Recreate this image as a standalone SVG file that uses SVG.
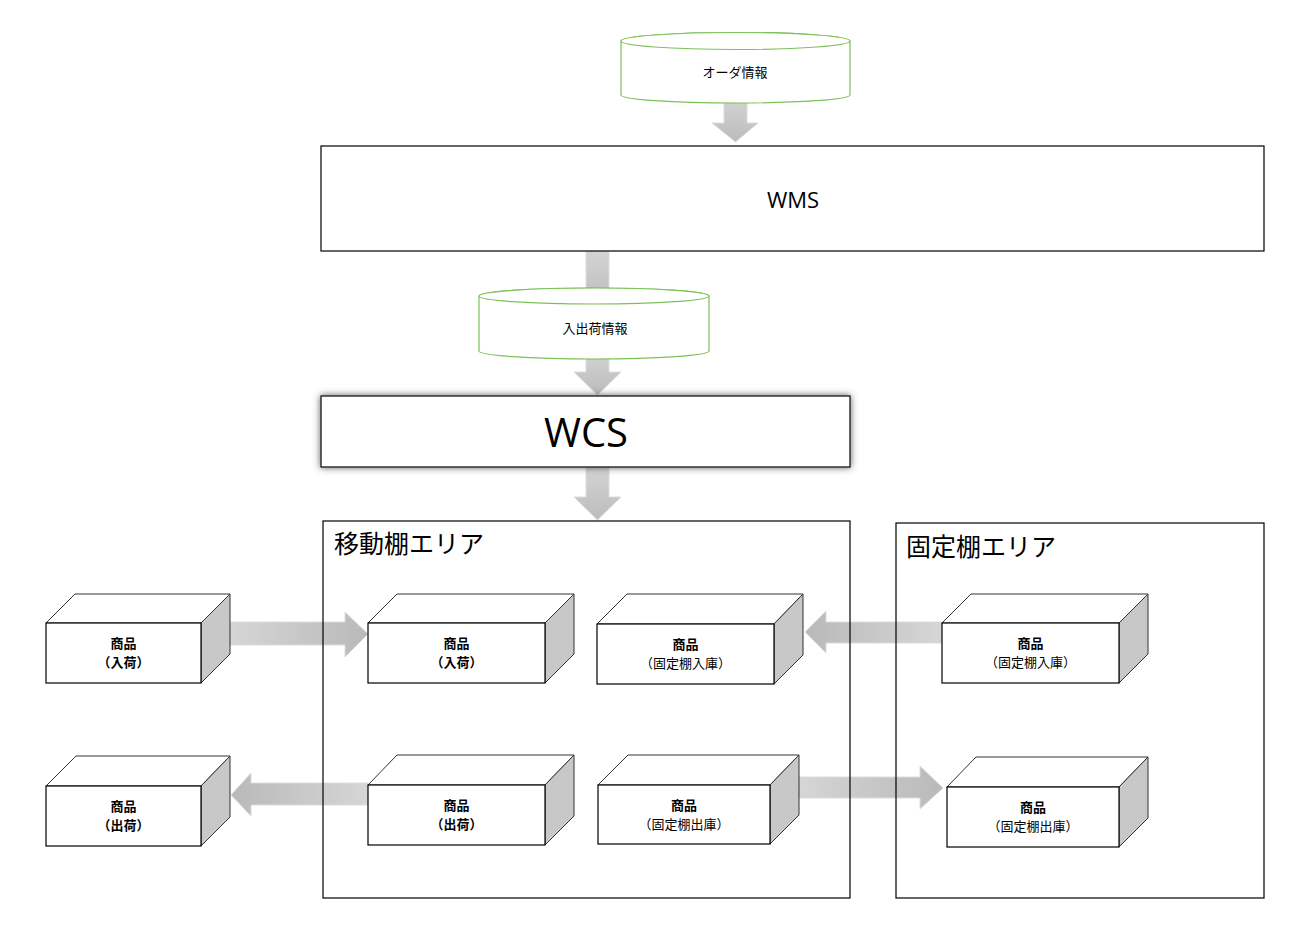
<svg xmlns="http://www.w3.org/2000/svg" width="1289" height="937" viewBox="0 0 1289 937">
<style>
.bx{fill:#fff;stroke:#000;stroke-width:1.2}
.top{fill:#fff;stroke:#333;stroke-width:1}
.side{fill:#c8c8c8;stroke:#333;stroke-width:1}
.area{fill:none;stroke:#000;stroke-width:1.2}
.cyl{fill:#fff;stroke:#7cc05a;stroke-width:1.2}
.jp{font-family:"Noto Sans CJK JP","Noto Sans",sans-serif;fill:#000}
.lbl{font-size:13px;text-anchor:middle}
.b{font-weight:bold}
.lat{font-family:"Open Sans","Noto Sans",sans-serif;fill:#000;text-anchor:middle}
.arr{stroke:#dcdcdc;stroke-width:1}
</style>
<defs>
<linearGradient id="gR" x1="0" y1="0" x2="1" y2="0"><stop offset="0" stop-color="#d6d6d6"/><stop offset="1" stop-color="#b9b9b9"/></linearGradient>
<linearGradient id="gL" x1="1" y1="0" x2="0" y2="0"><stop offset="0" stop-color="#d6d6d6"/><stop offset="1" stop-color="#b9b9b9"/></linearGradient>
<linearGradient id="gD" x1="0" y1="0" x2="0" y2="1"><stop offset="0" stop-color="#d4d4d4"/><stop offset="1" stop-color="#bcbcbc"/></linearGradient>
<filter id="sh" x="-10%" y="-30%" width="120%" height="160%"><feDropShadow dx="0" dy="0" stdDeviation="3.5" flood-color="#444" flood-opacity="0.9"/></filter>
</defs>
<g id="connectors">
<polygon class="arr" fill="url(#gD)" points="724,96 747,96 747,123 758,123 735.5,142 712,123 724,123"/>
<polygon class="arr" fill="url(#gD)" points="586,251 609,251 609,305 586,305"/>
<polygon class="arr" fill="url(#gD)" points="586,350 609,350 609,372 621,372 597.5,395 574,372 586,372"/>
<polygon class="arr" fill="url(#gD)" points="586,467 609,467 609,497 621,497 597.5,520 574,497 586,497"/>
<polygon class="arr" fill="url(#gR)" points="230,622 345,622 345,612 368,634 345,657 345,645 230,645"/>
<polygon class="arr" fill="url(#gL)" points="942,622 826,622 826,611 805,632 826,653 826,643 942,643"/>
<polygon class="arr" fill="url(#gL)" points="368,783 251,783 251,773 231,795 251,816 251,805 368,805"/>
<polygon class="arr" fill="url(#gR)" points="799,777 920,777 920,766 943,788 920,809 920,798 799,798"/>
</g>
<g id="order-info">
<path class="cyl" d="M621,41 A114.5,8.5 0 0 1 850,41 L850,95 A114.5,8 0 0 1 621,95 Z"/>
<ellipse class="cyl" cx="735.5" cy="41" rx="114.5" ry="8.5"/>
<text class="jp lbl" x="735" y="77">オーダ情報</text>
</g>
<g id="wms">
<rect class="bx" x="321" y="146" width="943" height="105"/>
<text class="lat" x="793" y="208" font-size="22">WMS</text>
</g>
<g id="io-info">
<path class="cyl" d="M479,296 A115,8 0 0 1 709,296 L709,351 A115,8 0 0 1 479,351 Z"/>
<ellipse class="cyl" cx="594" cy="296" rx="115" ry="8"/>
<text class="jp lbl" x="595" y="333">入出荷情報</text>
</g>
<g id="wcs">
<rect class="bx" x="321" y="396" width="529" height="71" filter="url(#sh)"/>
<text class="lat" x="586" y="447" font-size="40">WCS</text>
</g>
<g id="mobile-area">
<rect class="area" x="323" y="521" width="527" height="377"/>
<text class="jp" x="334" y="553" font-size="25">移動棚エリア</text>
</g>
<g id="fixed-area">
<rect class="area" x="896" y="523" width="368" height="375"/>
<text class="jp" x="906" y="556" font-size="25">固定棚エリア</text>
</g>
<g id="box-in-left">
<path class="top" d="M46,623 L75,594 L230,594 L201,623 Z"/>
<path class="side" d="M201,623 L230,594 L230,654 L201,683 Z"/>
<rect class="bx" x="46" y="623" width="155" height="60"/>
<text class="jp lbl b" x="123.5" y="648">商品</text>
<text class="jp lbl b" x="123.5" y="667">（入荷）</text>
</g>
<g id="box-in-mobile">
<path class="top" d="M368,623 L397,594 L574,594 L545,623 Z"/>
<path class="side" d="M545,623 L574,594 L574,654 L545,683 Z"/>
<rect class="bx" x="368" y="623" width="177" height="60"/>
<text class="jp lbl b" x="456.5" y="648">商品</text>
<text class="jp lbl b" x="456.5" y="667">（入荷）</text>
</g>
<g id="box-fixin-mobile">
<path class="top" d="M597,624 L627,594 L803,594 L774,624 Z"/>
<path class="side" d="M774,624 L803,594 L803,655 L774,684 Z"/>
<rect class="bx" x="597" y="624" width="177" height="60"/>
<text class="jp lbl b" x="685.5" y="649">商品</text>
<text class="jp lbl" x="685.5" y="668">（固定棚入庫）</text>
</g>
<g id="box-fixin-fixed">
<path class="top" d="M942,623 L971,594 L1148,594 L1119,623 Z"/>
<path class="side" d="M1119,623 L1148,594 L1148,654 L1119,683 Z"/>
<rect class="bx" x="942" y="623" width="177" height="60"/>
<text class="jp lbl b" x="1030.5" y="648">商品</text>
<text class="jp lbl" x="1030.5" y="667">（固定棚入庫）</text>
</g>
<g id="box-out-left">
<path class="top" d="M46,786 L76,756 L230,756 L201,786 Z"/>
<path class="side" d="M201,786 L230,756 L230,817 L201,846 Z"/>
<rect class="bx" x="46" y="786" width="155" height="60"/>
<text class="jp lbl b" x="123.5" y="811">商品</text>
<text class="jp lbl b" x="123.5" y="830">（出荷）</text>
</g>
<g id="box-out-mobile">
<path class="top" d="M368,785 L397,755 L574,755 L545,785 Z"/>
<path class="side" d="M545,785 L574,755 L574,816 L545,845 Z"/>
<rect class="bx" x="368" y="785" width="177" height="60"/>
<text class="jp lbl b" x="456.5" y="810">商品</text>
<text class="jp lbl b" x="456.5" y="829">（出荷）</text>
</g>
<g id="box-fixout-mobile">
<path class="top" d="M598,785 L628,755 L799,755 L770,785 Z"/>
<path class="side" d="M770,785 L799,755 L799,815 L770,844 Z"/>
<rect class="bx" x="598" y="785" width="172" height="59"/>
<text class="jp lbl b" x="684" y="810">商品</text>
<text class="jp lbl" x="684" y="829">（固定棚出庫）</text>
</g>
<g id="box-fixout-fixed">
<path class="top" d="M947,787 L976,757 L1148,757 L1119,787 Z"/>
<path class="side" d="M1119,787 L1148,757 L1148,818 L1119,847 Z"/>
<rect class="bx" x="947" y="787" width="172" height="60"/>
<text class="jp lbl b" x="1033" y="812">商品</text>
<text class="jp lbl" x="1033" y="831">（固定棚出庫）</text>
</g>
</svg>
